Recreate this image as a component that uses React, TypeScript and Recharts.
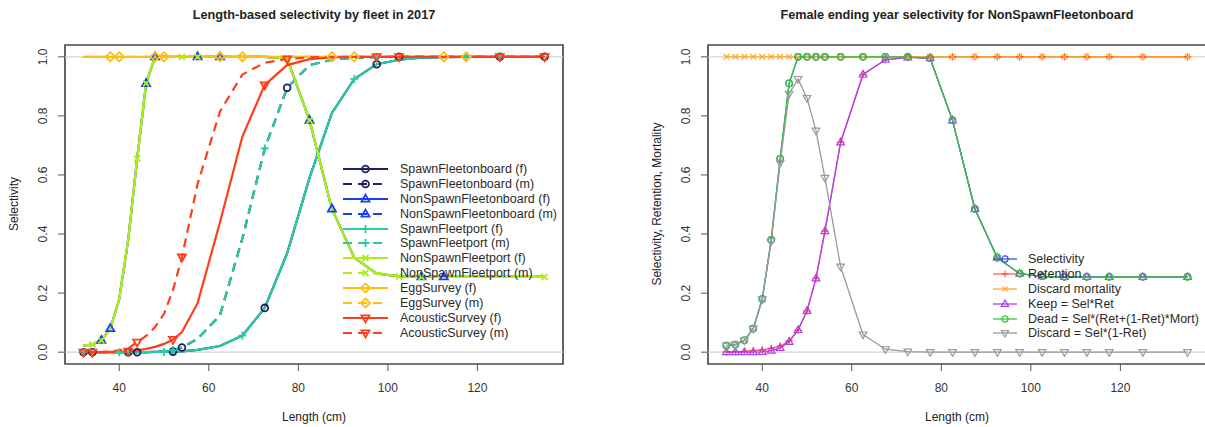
import React from 'react';
import { LineChart, Line, XAxis, YAxis, ReferenceLine, ReferenceArea } from 'recharts';

// length bins (cm)
const lengths = [32, 34, 36, 38, 40, 42, 44, 46, 48, 50, 52, 54, 57.5, 62.5, 67.5, 72.5, 77.5, 82.5, 87.5, 92.5, 97.5, 102.5, 107.5, 112.5, 117.5, 125, 135];

// left panel curves
const spawnFem = [0, 0, 0, 0, 0, 0, 0, 0, 0.001, 0.001, 0.002, 0.003, 0.008, 0.021, 0.056, 0.15, 0.335, 0.59, 0.81, 0.925, 0.975, 0.99, 0.997, 0.999, 1, 1, 1];
const spawnMale = [0, 0, 0, 0, 0, 0, 0, 0, 0.001, 0.003, 0.007, 0.016, 0.045, 0.125, 0.385, 0.69, 0.895, 0.972, 0.99, 0.997, 0.999, 1, 1, 1, 1, 1, 1];
const nonSpawn = [0.022, 0.026, 0.04, 0.08, 0.18, 0.38, 0.655, 0.91, 1, 1, 1, 1, 1, 1, 1, 1, 0.995, 0.785, 0.485, 0.32, 0.266, 0.257, 0.255, 0.255, 0.255, 0.255, 0.255];
const eggSurvey = [1, 1, 1, 1, 1, 1, 1, 1, 1, 1, 1, 1, 1, 1, 1, 1, 1, 1, 1, 1, 1, 1, 1, 1, 1, 1, 1];
const acousticFem = [0, 0, 0, 0.001, 0.001, 0.003, 0.006, 0.011, 0.018, 0.028, 0.043, 0.068, 0.166, 0.44, 0.73, 0.905, 0.972, 0.992, 0.998, 1, 1, 1, 1, 1, 1, 1, 1];
const acousticMale = [0, 0, 0.001, 0.003, 0.006, 0.013, 0.034, 0.055, 0.085, 0.13, 0.21, 0.322, 0.57, 0.815, 0.94, 0.98, 0.993, 0.998, 1, 1, 1, 1, 1, 1, 1, 1, 1];

// right panel (NonSpawnFleetonboard, female, ending year)
const selectivity = [0.022, 0.026, 0.04, 0.08, 0.18, 0.38, 0.655, 0.91, 1, 1, 1, 1, 1, 1, 1, 1, 0.995, 0.785, 0.485, 0.32, 0.266, 0.257, 0.255, 0.255, 0.255, 0.255, 0.255];
const retention = [0.001, 0.002, 0.003, 0.005, 0.008, 0.013, 0.021, 0.038, 0.075, 0.14, 0.25, 0.41, 0.71, 0.94, 0.99, 0.998, 1, 1, 1, 1, 1, 1, 1, 1, 1, 1, 1];
const discardMort = [1, 1, 1, 1, 1, 1, 1, 1, 1, 1, 1, 1, 1, 1, 1, 1, 1, 1, 1, 1, 1, 1, 1, 1, 1, 1, 1];
const keep = [0, 0, 0, 0, 0.001, 0.005, 0.014, 0.035, 0.075, 0.14, 0.25, 0.41, 0.71, 0.94, 0.99, 0.998, 0.995, 0.785, 0.485, 0.32, 0.266, 0.257, 0.255, 0.255, 0.255, 0.255, 0.255];
const dead = [0.022, 0.026, 0.04, 0.08, 0.18, 0.38, 0.655, 0.91, 1, 1, 1, 1, 1, 1, 1, 1, 0.995, 0.785, 0.485, 0.32, 0.266, 0.257, 0.255, 0.255, 0.255, 0.255, 0.255];
const discard = [0.022, 0.026, 0.04, 0.08, 0.179, 0.375, 0.641, 0.875, 0.925, 0.86, 0.75, 0.59, 0.29, 0.06, 0.01, 0.002, 0, 0, 0, 0, 0, 0, 0, 0, 0, 0, 0];

const xTicks = [40, 60, 80, 100, 120];
const yTicks = [0, 0.2, 0.4, 0.6, 0.8, 1];

const X_DOMAIN: [number, number] = [27.88, 139.12];
const Y_DOMAIN: [number, number] = [-0.04, 1.04];
const FONT = '"Liberation Sans", Arial, Helvetica, sans-serif';

const NAVY = '#1e2160';
const BLUE = '#1840f0';
const TEAL = '#26cca4';
const LIME = '#acee1c';
const GOLD = '#ffbf0f';
const RED = '#ff3d1a';

type Shape = 'circle' | 'triUp' | 'triDown' | 'plus' | 'cross' | 'diamond';

interface SeriesDef {
  key: string;
  name: string;
  color: string;
  dashed: boolean;
  shape: Shape;
}

const leftSeries: SeriesDef[] = [
  { key: 'sfoF', name: 'SpawnFleetonboard (f)', color: NAVY, dashed: false, shape: 'circle' },
  { key: 'sfoM', name: 'SpawnFleetonboard (m)', color: NAVY, dashed: true, shape: 'circle' },
  { key: 'nsfoF', name: 'NonSpawnFleetonboard (f)', color: BLUE, dashed: false, shape: 'triUp' },
  { key: 'nsfoM', name: 'NonSpawnFleetonboard (m)', color: BLUE, dashed: true, shape: 'triUp' },
  { key: 'sfpF', name: 'SpawnFleetport (f)', color: TEAL, dashed: false, shape: 'plus' },
  { key: 'sfpM', name: 'SpawnFleetport (m)', color: TEAL, dashed: true, shape: 'plus' },
  { key: 'nsfpF', name: 'NonSpawnFleetport (f)', color: LIME, dashed: false, shape: 'cross' },
  { key: 'nsfpM', name: 'NonSpawnFleetport (m)', color: LIME, dashed: true, shape: 'cross' },
  { key: 'eggF', name: 'EggSurvey (f)', color: GOLD, dashed: false, shape: 'diamond' },
  { key: 'eggM', name: 'EggSurvey (m)', color: GOLD, dashed: true, shape: 'diamond' },
  { key: 'acF', name: 'AcousticSurvey (f)', color: RED, dashed: false, shape: 'triDown' },
  { key: 'acM', name: 'AcousticSurvey (m)', color: RED, dashed: true, shape: 'triDown' },
];

const rightSeries: SeriesDef[] = [
  { key: 'sel', name: 'Selectivity', color: '#2f4fe8', dashed: false, shape: 'circle' },
  { key: 'ret', name: 'Retention', color: 'rgba(255,40,40,0.75)', dashed: false, shape: 'plus' },
  { key: 'mort', name: 'Discard mortality', color: '#ffa726', dashed: false, shape: 'cross' },
  { key: 'keep', name: 'Keep = Sel*Ret', color: '#a640f2', dashed: false, shape: 'triUp' },
  { key: 'dead', name: 'Dead = Sel*(Ret+(1-Ret)*Mort)', color: '#36c936', dashed: false, shape: 'circle' },
  { key: 'disc', name: 'Discard = Sel*(1-Ret)', color: '#9a9a9a', dashed: false, shape: 'triDown' },
];

const leftRows = lengths.map((len, i) => ({
  len,
  sfoF: spawnFem[i],
  sfoM: spawnMale[i],
  nsfoF: nonSpawn[i],
  nsfoM: nonSpawn[i],
  sfpF: spawnFem[i],
  sfpM: spawnMale[i],
  nsfpF: nonSpawn[i],
  nsfpM: nonSpawn[i],
  eggF: eggSurvey[i],
  eggM: eggSurvey[i],
  acF: acousticFem[i],
  acM: acousticMale[i],
}));

const rightRows = lengths.map((len, i) => ({
  len,
  sel: selectivity[i],
  ret: retention[i],
  mort: discardMort[i],
  keep: keep[i],
  dead: dead[i],
  disc: discard[i],
}));

const Marker = ({ shape, x, y, color, s, sw }: { shape: Shape; x: number; y: number; color: string; s: number; sw: number }) => {
  const common = { fill: 'none', stroke: color, strokeWidth: sw };
  switch (shape) {
    case 'circle':
      return <circle cx={x} cy={y} r={s * 0.85} {...common} />;
    case 'triUp':
      return <polygon points={`${x},${y - s * 1.1} ${x + s},${y + s * 0.65} ${x - s},${y + s * 0.65}`} {...common} />;
    case 'triDown':
      return <polygon points={`${x},${y + s * 1.1} ${x + s},${y - s * 0.65} ${x - s},${y - s * 0.65}`} {...common} />;
    case 'plus':
      return <path d={`M${x - s} ${y}H${x + s}M${x} ${y - s}V${y + s}`} {...common} />;
    case 'cross':
      return <path d={`M${x - s * 0.75} ${y - s * 0.75}L${x + s * 0.75} ${y + s * 0.75}M${x - s * 0.75} ${y + s * 0.75}L${x + s * 0.75} ${y - s * 0.75}`} {...common} />;
    default:
      return <polygon points={`${x},${y - s * 1.15} ${x + s * 1.15},${y} ${x},${y + s * 1.15} ${x - s * 1.15},${y}`} {...common} />;
  }
};

// r4ss puts a point on every 5th bin, shifted by one bin per series
const dotFor = (s: SeriesDef, every: number, start: number, size: number, sw: number) => (p: any) => {
  const show = p.cx != null && p.cy != null && p.index % every === start;
  return (
    <g key={`${s.key}-${p.index}`}>
      {show ? <Marker shape={s.shape} x={p.cx} y={p.cy} color={s.color} s={size} sw={sw} /> : null}
    </g>
  );
};

const YTick = (p: any) => {
  const { x, y, payload } = p;
  return (
    <text x={x} y={y} transform={`rotate(-90 ${x} ${y})`} textAnchor="middle" fontSize={12} fill="#333" fontFamily={FONT}>
      {Number(payload.value).toFixed(1)}
    </text>
  );
};

const Legend = ({ items, left, top, lineW, gap, size, sw, lw }: any) => (
  <div style={{ position: 'absolute', left, top, fontFamily: FONT, fontSize: 12.5, color: '#2a2a2a' }}>
    {items.map((s: SeriesDef) => (
      <div key={s.key} style={{ display: 'flex', alignItems: 'center', height: 14.9, whiteSpace: 'nowrap' }}>
        <svg width={lineW} height={14} style={{ display: 'block' }}>
          <line x1={0} y1={7} x2={lineW} y2={7} stroke={s.color} strokeWidth={lw} strokeDasharray={s.dashed ? '9 6' : undefined} />
          <Marker shape={s.shape} x={lineW / 2} y={7} color={s.color} s={size} sw={sw} />
        </svg>
        <span style={{ marginLeft: gap }}>{s.name}</span>
      </div>
    ))}
  </div>
);

const Panel = ({ rows, series, width, marginLeft, marginRight, lw, every, size, sw }: any) => (
  <LineChart width={width} height={427} data={rows} margin={{ top: 45, right: marginRight, bottom: 33, left: marginLeft }}>
    <ReferenceLine y={0} stroke="#d2d2d2" strokeWidth={1.3} />
    <ReferenceLine y={1} stroke="#d2d2d2" strokeWidth={1.3} />
    <XAxis
      dataKey="len"
      type="number"
      domain={X_DOMAIN}
      ticks={xTicks}
      allowDataOverflow
      interval={0}
      axisLine={false}
      tickLine={{ stroke: '#555' }}
      tickSize={7}
      tickMargin={12}
      height={30}
      tick={{ fontSize: 12, fill: '#333', fontFamily: FONT }}
    />
    <YAxis
      type="number"
      domain={Y_DOMAIN}
      ticks={yTicks}
      allowDataOverflow
      interval={0}
      axisLine={false}
      tickLine={{ stroke: '#555' }}
      tickSize={7}
      tickMargin={11}
      width={40}
      tick={(p: any) => <YTick {...p} />}
    />
    {series.map((s: SeriesDef, i: number) => (
      <Line
        key={s.key}
        type="linear"
        dataKey={s.key}
        stroke={s.color}
        strokeWidth={lw}
        strokeDasharray={s.dashed ? '9 6' : undefined}
        dot={dotFor(s, every, every === 1 ? 0 : i % every, size, sw)}
        activeDot={false}
        isAnimationActive={false}
      />
    ))}
    <ReferenceArea
      x1={X_DOMAIN[0]}
      x2={X_DOMAIN[1]}
      y1={Y_DOMAIN[0]}
      y2={Y_DOMAIN[1]}
      fill="none"
      fillOpacity={0}
      stroke="#4a4a4a"
      strokeWidth={1.7}
      ifOverflow="visible"
    />
  </LineChart>
);

const textStyle: React.CSSProperties = { position: 'absolute', fontFamily: FONT, color: '#222', whiteSpace: 'nowrap' };

export default function App() {
  return (
    <div style={{ position: 'absolute', left: 0, top: 0, width: 1205, height: 427, overflow: 'hidden', background: '#fff' }}>
      <div style={{ position: 'absolute', left: 0, top: 0 }}>
        <Panel rows={leftRows} series={leftSeries} width={600} marginLeft={25} marginRight={37} lw={2.2} every={5} size={4} sw={1.8} />
      </div>
      <div style={{ position: 'absolute', left: 605, top: 0 }}>
        <Panel rows={rightRows} series={rightSeries} width={605} marginLeft={63} marginRight={4} lw={1.3} every={1} size={3.8} sw={1.2} />
      </div>

      <div style={{ ...textStyle, left: 64, width: 500, top: 7, lineHeight: '16px', textAlign: 'center', fontSize: 12.7, fontWeight: 'bold' }}>
        Length-based selectivity by fleet in 2017
      </div>
      <div style={{ ...textStyle, left: 707, width: 500, top: 7, lineHeight: '16px', textAlign: 'center', fontSize: 12.7, fontWeight: 'bold' }}>
        Female ending year selectivity for NonSpawnFleetonboard
      </div>
      <div style={{ ...textStyle, left: 64, width: 500, top: 410, lineHeight: '14px', textAlign: 'center', fontSize: 12 }}>
        Length (cm)
      </div>
      <div style={{ ...textStyle, left: 707, width: 500, top: 410, lineHeight: '14px', textAlign: 'center', fontSize: 12 }}>
        Length (cm)
      </div>
      <div style={{ ...textStyle, left: 14, top: 204, fontSize: 12, transform: 'translate(-50%, -50%) rotate(-90deg)' }}>
        Selectivity
      </div>
      <div style={{ ...textStyle, left: 657, top: 204, fontSize: 12, transform: 'translate(-50%, -50%) rotate(-90deg)' }}>
        Selectivity, Retention, Mortality
      </div>

      <Legend items={leftSeries} left={343} top={161.5} lineW={45} gap={12} size={4} sw={1.8} lw={2.2} />
      <Legend items={rightSeries} left={993} top={251.5} lineW={24} gap={11} size={3.6} sw={1.2} lw={1.3} />
    </div>
  );
}
